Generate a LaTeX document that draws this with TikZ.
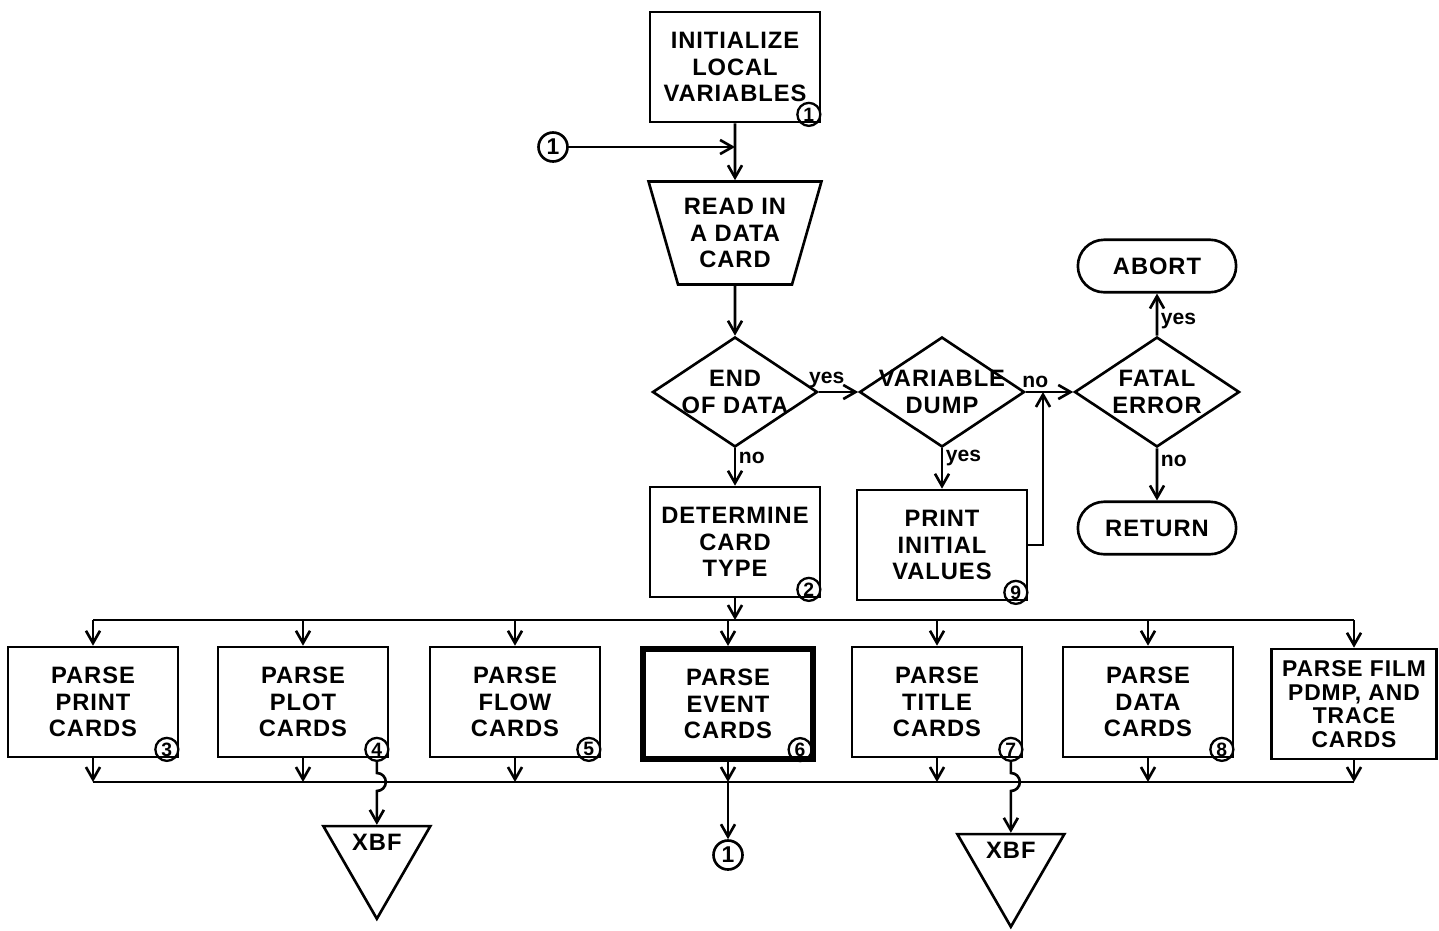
\documentclass[tikz,border=0pt]{standalone}
\usepackage{fontspec}
\setmainfont{Liberation Sans}
\newfontfamily\flowfont{Liberation Sans}[LetterSpace=4]
\usetikzlibrary{shapes.geometric,shapes.misc,positioning,calc,arrows.meta}

\begin{document}
\begin{tikzpicture}[x=0.02cm,y=-0.02cm,line width=1.5pt,>={Straight Barb[length=7pt,width=8pt]}]
			\tikzstyle{box}=[rectangle,draw,align=center,minimum width=3.4cm,minimum height=2.2cm,inner sep=2pt,font=\flowfont\bfseries\fontsize{13.5}{15}\selectfont]
			\tikzstyle{txt}=[align=center,font=\flowfont\bfseries\fontsize{13.5}{15}\selectfont]
			\tikzstyle{card}=[trapezium,draw,shape border rotate=180,trapezium left angle=70,trapezium right angle=70,trapezium stretches=true,minimum width=3.34cm,minimum height=2.06cm,txt]
			\tikzstyle{test}=[diamond,draw,minimum width=3.3cm,minimum height=2.2cm,inner sep=0pt]
			\tikzstyle{term}=[rounded rectangle,draw,minimum width=3.4cm,minimum height=1.05cm,txt]
			\tikzstyle{conn}=[circle,draw,minimum size=0.58cm,inner sep=0pt,font=\bfseries\fontsize{13}{13}\selectfont]
			\tikzstyle{num}=[circle,draw,minimum size=0.46cm,inner sep=0pt,line width=1.3pt,font=\bfseries\fontsize{11}{11}\selectfont]
			\tikzstyle{xbf}=[regular polygon,regular polygon sides=3,shape border rotate=180,draw,minimum size=2.47cm,inner sep=0pt]
			\tikzstyle{yn}=[font=\bfseries\fontsize{12}{12}\selectfont,inner sep=1.5pt]
			\useasboundingbox (0,0) rectangle (1439,930);

			% main column
			\node[box] (init) at (735,67) {INITIALIZE\\LOCAL\\VARIABLES};
			\node[num,above left=0pt and 2pt of init.south east] (n1) {1};
			\node[conn] (conin) at (553,147) {1};
			\node[card] (read) at (735,233) {READ IN\\A DATA\\CARD};
			\node[test,label={[txt]center:{END\\OF DATA}}] (eod) at (735,392) {};
			\node[box] (dtype) at (735,542) {DETERMINE\\CARD\\TYPE};
			\node[num,above left=0pt and 2pt of dtype.south east] (n2) {2};

			% end of data branch
			\node[test,label={[txt]center:{VARIABLE\\DUMP}}] (dump) at (942,392) {};
			\node[box] (pinit) at (942,545) {PRINT\\INITIAL\\VALUES};
			\node[num,above left=0pt and 2pt of pinit.south east] (n9) {9};
			\coordinate (jn) at (1043,392);
			\node[test,label={[txt]center:{FATAL\\ERROR}}] (fatal) at (1157,392) {};
			\node[term] (abort) at (1157,266) {ABORT};
			\node[term] (ret) at (1157,528) {RETURN};

			% card parsers
			\coordinate (tbus) at (0,620);
			\coordinate (bbus) at (0,782);
			\node[box] (pprint) at (93,702) {PARSE\\PRINT\\CARDS};
			\node[num,above left=0pt and 2pt of pprint.south east] (n3) {3};
			\node[box] (pplot) at (303,702) {PARSE\\PLOT\\CARDS};
			\node[num,above left=0pt and 2pt of pplot.south east] (n4) {4};
			\node[box] (pflow) at (515,702) {PARSE\\FLOW\\CARDS};
			\node[num,above left=0pt and 2pt of pflow.south east] (n5) {5};
			\node[box,line width=3.5pt] (pevent) at (728,704) {PARSE\\EVENT\\CARDS};
			\node[num,above left=2pt and 4pt of pevent.south east] (n6) {6};
			\node[box] (ptitle) at (937,702) {PARSE\\TITLE\\CARDS};
			\node[num,above left=0pt and 2pt of ptitle.south east] (n7) {7};
			\node[box] (pdata) at (1148,702) {PARSE\\DATA\\CARDS};
			\node[num,above left=0pt and 2pt of pdata.south east] (n8) {8};
			\node[box,minimum width=3.3cm,font=\flowfont\bfseries\fontsize{13}{13.5}\selectfont] (pfilm) at (1354,704) {PARSE FILM\\PDMP, AND\\TRACE\\CARDS};

			\node[conn] (conout) at (pevent |- 0,855) {1};
			\node[xbf,label={[txt,yshift=0.3cm]center:XBF}] (xbfa) at (n4 |- 0,857) {};
			\node[xbf,label={[txt,yshift=0.3cm]center:XBF}] (xbfb) at (n7 |- 0,865) {};

			\path[->]
			(init) edge (read)
			(conin) edge (conin -| init)
			(read) edge (eod)
			(eod) edge node[yn,above,pos=0.2] {yes} (dump)
			(eod) edge node[yn,right,pos=0.25] {no} (dtype)
			(dump) edge node[yn,right,pos=0.25] {yes} (pinit)
			(dump) edge node[yn,above,pos=0.2] {no} (fatal)
			(fatal) edge node[yn,right,pos=0.35] {yes} (abort)
			(fatal) edge node[yn,right,pos=0.25] {no} (ret)

			(dtype) edge (dtype |- tbus)
			(pprint.north |- tbus) edge (pprint)
			(pplot.north |- tbus) edge (pplot)
			(pflow.north |- tbus) edge (pflow)
			(pevent.north |- tbus) edge (pevent)
			(ptitle.north |- tbus) edge (ptitle)
			(pdata.north |- tbus) edge (pdata)
			(pfilm.north |- tbus) edge (pfilm)

			(pprint) edge (pprint |- bbus)
			(pplot) edge (pplot |- bbus)
			(pflow) edge (pflow |- bbus)
			(pevent) edge (pevent |- bbus)
			(ptitle) edge (ptitle |- bbus)
			(pdata) edge (pdata |- bbus)
			(pfilm) edge (pfilm |- bbus)
			(pevent |- bbus) edge (conout)
			;

			\draw[->] (pinit.east) -| (jn);
			\draw (pprint.north |- tbus) -- (pfilm.north |- tbus);
			\draw (pprint.south |- bbus) -- (pfilm.south |- bbus);

			% exits to XBF hop over the collector line
			\draw[->] (n4) -- ($(n4 |- bbus)+(0,-9)$) arc[start angle=90,end angle=-90,radius=0.18cm] -- (xbfa);
			\draw[->] (n7) -- ($(n7 |- bbus)+(0,-9)$) arc[start angle=90,end angle=-90,radius=0.18cm] -- (xbfb);
		\end{tikzpicture}
\end{document}
